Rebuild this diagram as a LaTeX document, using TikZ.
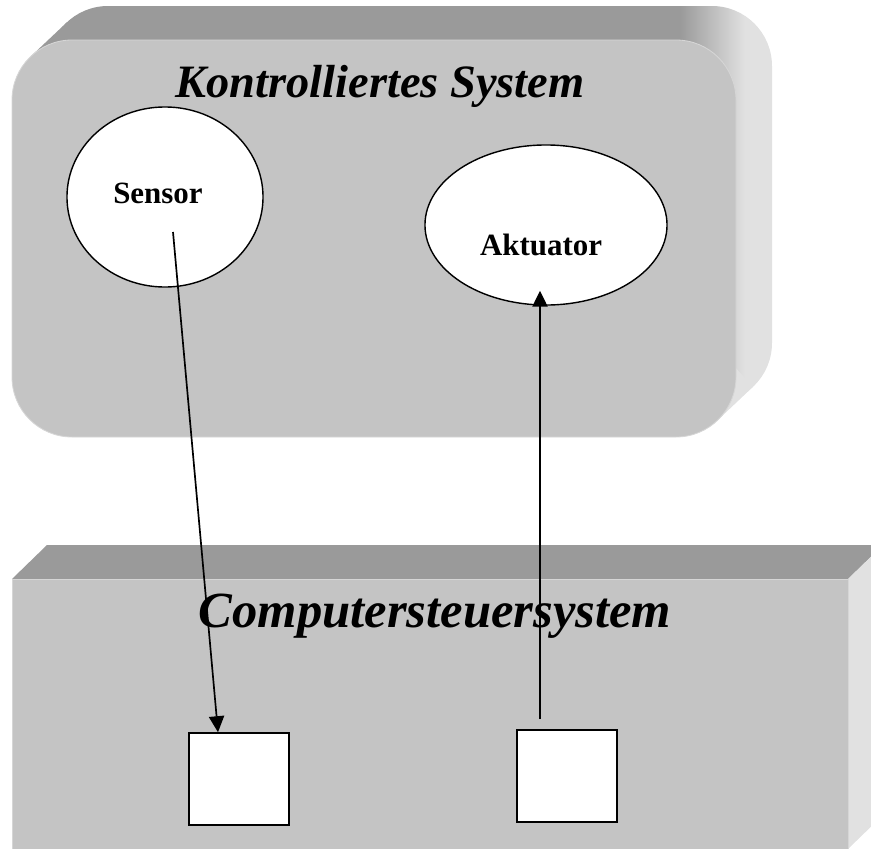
\documentclass[tikz,border=0pt]{standalone}
\usepackage{fontspec}
\setmainfont{Liberation Serif}
\usetikzlibrary{arrows.meta,calc,shapes.geometric}

\definecolor{facegray}{HTML}{C4C4C4}
\definecolor{topgray}{HTML}{9A9A9A}
\definecolor{sidegray}{HTML}{E1E1E1}
\definecolor{rimgray}{HTML}{D6D6D6}

\tikzset{
  face/.style={fill=facegray, draw=rimgray, line width=0.6pt},
  part/.style={ellipse, draw, fill=white, line width=1pt, inner sep=0pt},
  port/.style={rectangle, draw, fill=white, line width=1.1pt, minimum width=2.5cm, minimum height=2.3cm},
  signal/.style={-{Triangle[length=4mm,width=3.8mm]}, line width=1.2pt},
  headline/.style={font=\fontsize{33}{33}\selectfont\bfseries\itshape},
  partname/.style={font=\fontsize{22}{22}\selectfont\bfseries}
}

\begin{document}
\begin{tikzpicture}[x=0.025cm, y=-0.025cm]
\useasboundingbox (0,0) rectangle (871,849);
\clip (0,0) rectangle (871,849);

% controlled system: rounded slab
\coordinate (A) at (12,40);
\coordinate (B) at (736,437);
\coordinate (C) at (48,6);
\coordinate (D) at (772,403);

\begin{scope}
\clip[rounded corners=1.5cm] (C) rectangle (D);
\fill[topgray] (0,0) rectangle (680,450);
\shade[left color=topgray, right color=sidegray] (680,0) rectangle (745,450);
\fill[sidegray] (745,0) rectangle (800,450);
\end{scope}
\fill[topgray] (30.8,56.4) -- (66.8,22.4) -- (108,66) -- (72,100) -- cycle;
\fill[sidegray] (717.2,420.6) -- (753.2,386.6) -- (712,343) -- (676,377) -- cycle;
\draw[face, rounded corners=1.5cm] (A) rectangle (B);

\node[headline, anchor=base] (ctitle) at (380,97) {Kontrolliertes System};

\node[part, minimum width=4.9cm, minimum height=4.5cm,
  label={[name=sensortext, partname, anchor=base, xshift=-5pt, yshift=2.8pt]center:Sensor}] (sensor) at (165,197) {};
\node[part, minimum width=6.05cm, minimum height=4cm,
  label={[name=aktuatortext, partname, anchor=base, xshift=-3.5pt, yshift=-14pt]center:Aktuator}] (aktuator) at (546,225) {};

% computer control system: box
\fill[topgray] (12,579) -- (47,545) -- (883,545) -- (848,579) -- cycle;
\fill[sidegray] (848,579) -- (883,545) -- (883,815) -- (848,849) -- cycle;
\draw[face] (12,579) rectangle (848,860);

\node[headline, font=\fontsize{36}{36}\selectfont\bfseries\itshape, anchor=base] (ptitle) at (435,627) {Computersteuersystem};

\node[port] (inport) at (239,779) {};
\node[port] (outport) at (567,776) {};

\coordinate (sensorout) at ($(sensor.center)+(8,35)$);
\coordinate (inportin) at ($(inport.north)+(-21,0)$);
\coordinate (outportout) at ($(outport.north)+(-27,-10)$);
\coordinate (aktuatorin) at ($(aktuator.south)+(-6,-15)$);

\draw[signal] (sensorout) -- (inportin);
\draw[signal] (outportout) -- (aktuatorin);

\end{tikzpicture}
\end{document}
